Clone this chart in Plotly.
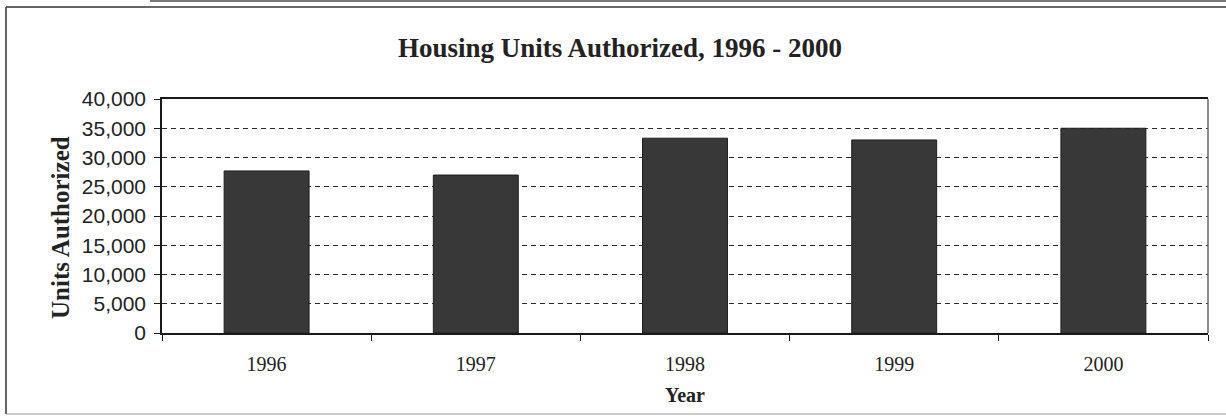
import plotly.graph_objects as go

years = ["1996", "1997", "1998", "1999", "2000"]
units = [27700, 27000, 33300, 33000, 35000]
y_ticks = [0, 5000, 10000, 15000, 20000, 25000, 30000, 35000, 40000]
y_tick_text = ["0", "5,000", "10,000", "15,000", "20,000", "25,000", "30,000", "35,000", "40,000"]

W, H = 1226, 416
L, R, T, B = 162, 18, 99, 83
pw = W - L - R
ph = H - T - B

fig = go.Figure()
fig.add_trace(go.Bar(
    x=years, y=units,
    marker=dict(color="#383838", line=dict(color="#1e1e1e", width=1)),
))

def px_x(px):
    return (px - L) / pw

def px_y(py):
    return (H - B - py) / ph

border = dict(color="#333", width=1.5)

fig.update_layout(
    width=W, height=H,
    margin=dict(l=L, r=R, t=T, b=B, autoexpand=False),
    paper_bgcolor="white", plot_bgcolor="white",
    bargap=0.594,
    showlegend=False,
    title=dict(
        text="Housing Units Authorized, 1996 - 2000",
        font=dict(family="Liberation Serif", size=27, color="#222", weight="bold"),
        x=620 / W, xanchor="center", xref="container",
        y=1 - 48 / H, yanchor="middle", yref="container",
    ),
    xaxis=dict(
        type="category",
        showline=True, linecolor="#1a1a1a", linewidth=1.5, mirror=True,
        ticks="outside", ticklen=6, tickcolor="#1a1a1a", tickwidth=1,
        tickson="boundaries",
        showgrid=False,
        ticklabelstandoff=12,
        tickfont=dict(family="Liberation Serif", size=20, color="#222"),
        title=dict(text="Year", font=dict(family="Liberation Serif", size=20, color="#222", weight="bold"), standoff=14),
    ),
    yaxis=dict(
        range=[0, 40000],
        tickvals=y_ticks, ticktext=y_tick_text,
        showline=True, linecolor="#1a1a1a", linewidth=1.5, mirror=False,
        ticks="outside", ticklen=6, tickcolor="#1a1a1a", tickwidth=1,
        ticklabelstandoff=4,
        showgrid=True, gridcolor="#2a2a2a", gridwidth=1.2, griddash="5px,4px",
        zeroline=False,
        tickfont=dict(family="Liberation Sans", size=21, color="#222"),
    ),
    annotations=[
        dict(text="Units Authorized", xref="paper", yref="paper",
             x=px_x(60), y=px_y(228), xanchor="center", yanchor="middle",
             textangle=-90, showarrow=False,
             font=dict(family="Liberation Serif", size=25, color="#222", weight="bold")),
    ],
    shapes=[
        dict(type="line", xref="paper", yref="paper",
             x0=1, x1=1, y0=0, y1=1, line=dict(color="#666", width=1.5), layer="above"),
        dict(type="line", xref="paper", yref="paper",
             x0=px_x(6), x1=px_x(6), y0=px_y(414), y1=px_y(7), line=border, layer="below"),
        dict(type="line", xref="paper", yref="paper",
             x0=px_x(6), x1=px_x(1226), y0=px_y(7), y1=px_y(7), line=border, layer="below"),
        dict(type="line", xref="paper", yref="paper",
             x0=px_x(6), x1=px_x(1226), y0=px_y(414), y1=px_y(414),
             line=dict(color="#999", width=1), layer="below"),
        dict(type="line", xref="paper", yref="paper",
             x0=px_x(150), x1=px_x(1226), y0=px_y(1), y1=px_y(1),
             line=dict(color="#777", width=2), layer="below"),
    ],
)

fig.write_html(
    "out.html",
    config={"displayModeBar": False},
    post_script="document.body.style.margin='0';document.body.style.overflow='hidden';document.documentElement.style.overflow='hidden';",
)
